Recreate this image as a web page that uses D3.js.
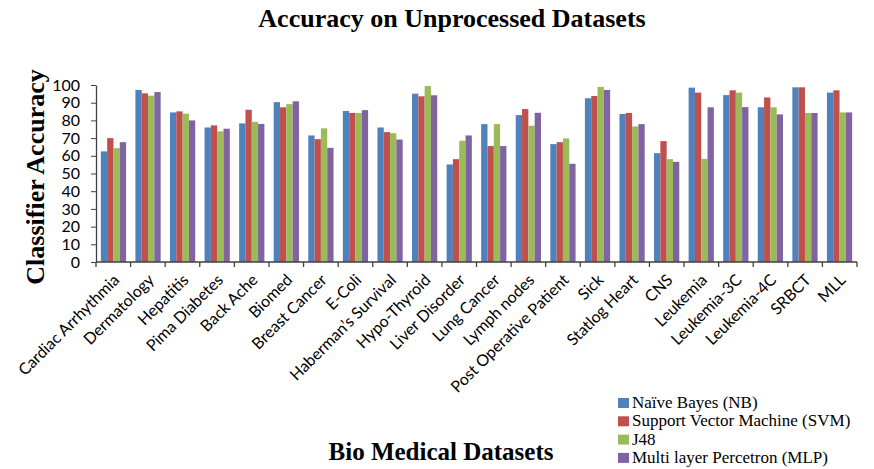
<!DOCTYPE html>
<html>
<head>
<meta charset="utf-8">
<script src="https://cdn.jsdelivr.net/npm/d3@7"></script>
<style>
  body { margin: 0; background: #fff; }
  svg text { fill: #000; }
</style>
</head>
<body>
<div id="chart"></div>
<script>
const datasets = ['Cardiac Arrhythmia', 'Dermatology', 'Hepatitis', 'Pima Diabetes', 'Back Ache',
    'Biomed', 'Breast Cancer', 'E-Coli', 'Haberman\u2019s Survival', 'Hypo-Thyroid', 'Liver Disorder',
    'Lung Cancer', 'Lymph nodes', 'Post Operative Patient', 'Sick', 'Statlog Heart', 'CNS',
    'Leukemia', 'Leukemia-3C', 'Leukemia-4C', 'SRBCT', 'MLL']

const classifiers = ['Naïve Bayes (NB)', 'Support Vector Machine (SVM)', 'J48', 'Multi layer Percetron (MLP)']

const nbValues  = [62.5, 97.2, 84.5, 76.0, 78.3, 90.3, 71.5, 85.3, 76.0, 95.1, 55.1, 77.9, 83.0, 66.6, 92.5, 83.6, 61.5, 98.5, 94.3, 87.4, 98.7, 95.7]
const svmValues = [70.0, 95.3, 85.1, 77.2, 86.0, 87.4, 69.4, 84.2, 73.4, 93.6, 58.1, 65.5, 86.4, 67.7, 93.8, 84.2, 68.3, 95.7, 97.0, 93.0, 98.7, 97.0]
const j48Values = [64.3, 94.0, 83.8, 73.8, 79.2, 89.2, 75.5, 84.2, 72.8, 99.4, 68.5, 77.9, 77.0, 69.8, 98.9, 76.6, 58.1, 58.3, 95.7, 87.4, 84.2, 84.5]
const mlpValues = [67.7, 96.0, 80.0, 75.3, 78.0, 90.8, 64.5, 85.8, 69.2, 94.2, 71.5, 65.5, 84.3, 55.5, 97.2, 77.9, 56.6, 87.4, 87.5, 83.4, 84.2, 84.5]

const yTicks = [0, 10, 20, 30, 40, 50, 60, 70, 80, 90, 100]
const colors = ['#4F81BD', '#C0504D', '#9BBB59', '#8064A2']

const series = [nbValues, svmValues, j48Values, mlpValues]
const rows = datasets.map((name, i) => ({ name, values: series.map(s => s[i]) }))

const W = 874, H = 469
const margin = { left: 96, right: 17, top: 85, bottom: 207 }

const svg = d3.select('#chart').append('svg')
    .attr('width', W)
    .attr('height', H)

const x = d3.scaleBand()
    .domain(datasets)
    .range([margin.left, W - margin.right])
    .paddingInner(0.27)
    .paddingOuter(0.14)

const xInner = d3.scaleBand()
    .domain(d3.range(classifiers.length))
    .range([0, x.bandwidth()])

const y = d3.scaleLinear()
    .domain([0, 100])
    .range([H - margin.bottom, margin.top])

// bars
const groups = svg.append('g').selectAll('g')
    .data(rows)
    .join('g')
    .attr('transform', d => `translate(${x(d.name)},0)`)

groups.selectAll('rect')
    .data(d => d.values)
    .join('rect')
    .attr('x', (d, i) => xInner(i))
    .attr('y', d => y(d))
    .attr('width', xInner.bandwidth())
    .attr('height', d => y(0) - y(d))
    .attr('fill', (d, i) => colors[i])

// y axis
const yAxis = svg.append('g')
    .attr('transform', `translate(${margin.left},0)`)
    .call(d3.axisLeft(y).tickValues(yTicks).tickSize(5).tickSizeOuter(0))
yAxis.select('.domain').attr('stroke', '#404040').attr('stroke-width', 1.3)
yAxis.selectAll('.tick line').attr('stroke', '#404040')
yAxis.selectAll('.tick text')
    .attr('font-family', 'Lato, "Open Sans", sans-serif')
    .attr('font-size', 16)
    .attr('x', -16)

// x axis: line with ticks between categories
const x0 = x.range()[0], x1 = x.range()[1]
svg.append('line')
    .attr('x1', x0).attr('x2', x1)
    .attr('y1', y(0)).attr('y2', y(0))
    .attr('stroke', '#404040').attr('stroke-width', 1.3)
const boundaries = d3.range(datasets.length + 1).map(i => x0 + (x1 - x0) * i / datasets.length)
svg.append('g').selectAll('line')
    .data(boundaries)
    .join('line')
    .attr('x1', d => d).attr('x2', d => d)
    .attr('y1', y(0)).attr('y2', y(0) + 5)
    .attr('stroke', '#404040').attr('stroke-width', 1.3)

svg.append('g').selectAll('text')
    .data(datasets)
    .join('text')
    .attr('transform', d => `translate(${x(d) + x.bandwidth() / 2 + 7},${y(0) + 19}) rotate(-45)`)
    .attr('text-anchor', 'end')
    .attr('font-family', 'Lato, "Open Sans", sans-serif')
    .attr('font-size', 16)
    .text(d => d)

// titles
svg.append('text')
    .attr('x', 452).attr('y', 27)
    .attr('text-anchor', 'middle')
    .attr('font-family', '"Liberation Serif", serif')
    .attr('font-weight', 'bold')
    .attr('font-size', 26)
    .text('Accuracy on Unprocessed Datasets')

svg.append('text')
    .attr('transform', `translate(44,177) rotate(-90)`)
    .attr('text-anchor', 'middle')
    .attr('font-family', '"Liberation Serif", serif')
    .attr('font-weight', 'bold')
    .attr('font-size', 26)
    .text('Classifier Accuracy')

svg.append('text')
    .attr('x', 441).attr('y', 460)
    .attr('text-anchor', 'middle')
    .attr('font-family', '"Liberation Serif", serif')
    .attr('font-weight', 'bold')
    .attr('font-size', 25)
    .text('Bio Medical Datasets')

// legend
const legend = svg.append('g').attr('transform', 'translate(618,397)')
const items = legend.selectAll('g')
    .data(classifiers)
    .join('g')
    .attr('transform', (d, i) => `translate(0,${i * 18.3})`)
items.append('rect')
    .attr('width', 11).attr('height', 10)
    .attr('y', 1)
    .attr('fill', (d, i) => colors[i])
items.append('text')
    .attr('x', 14).attr('y', 11)
    .attr('font-family', '"Liberation Serif", serif')
    .attr('font-size', 17)
    .text(d => d)
</script>
</body>
</html>
